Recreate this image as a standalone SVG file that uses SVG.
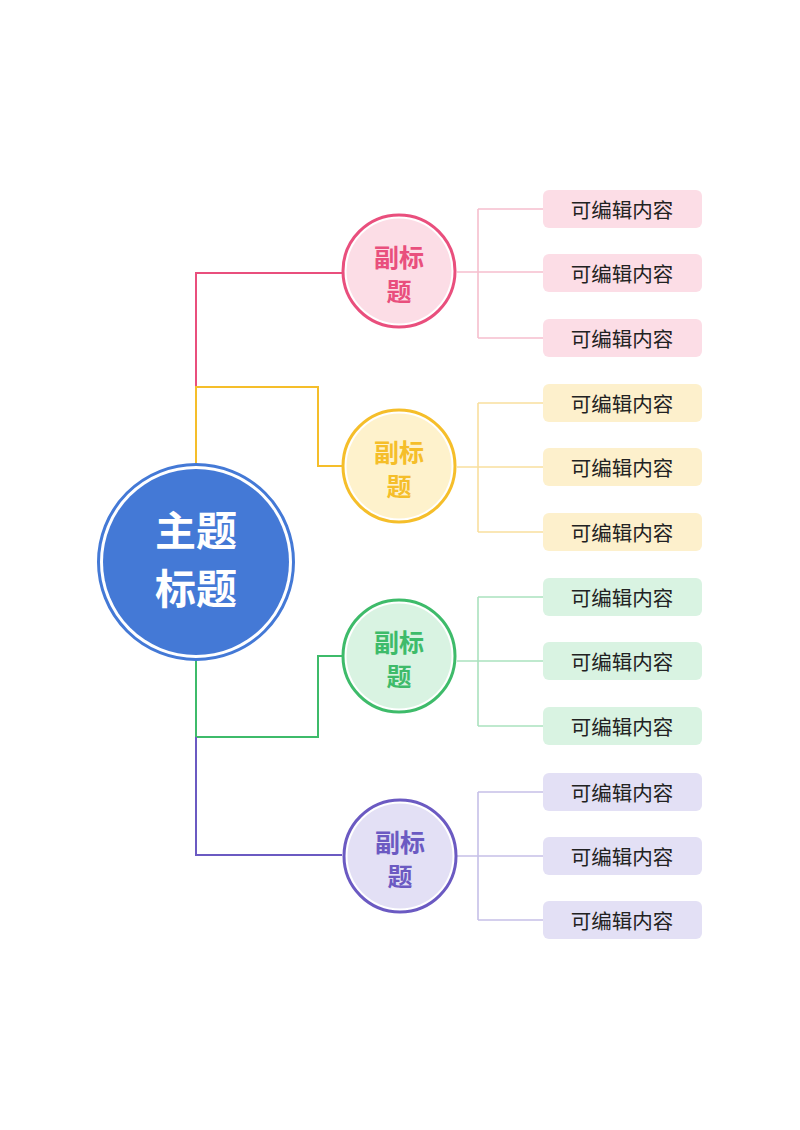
<svg xmlns="http://www.w3.org/2000/svg" width="800" height="1130" viewBox="0 0 800 1130">
<style>
.lk{fill:none;stroke-width:2}
.sl{fill:none;stroke-width:1.6}
.bt{font-family:"Noto Sans CJK SC","Noto Sans",sans-serif;font-size:20.5px;fill:#222;text-anchor:middle;dominant-baseline:central}
.st{font-family:"Noto Sans CJK SC","Noto Sans",sans-serif;font-size:25px;font-weight:bold;text-anchor:middle;dominant-baseline:central}
.mt{font-family:"Noto Sans CJK SC","Noto Sans",sans-serif;font-size:41px;font-weight:bold;fill:#fff;text-anchor:middle;dominant-baseline:central}
</style>
<rect width="800" height="1130" fill="#fff"/>
<g id="connectors">
<path class="lk" stroke="#E94F7D" d="M196 387 V273 H342"/>
<path class="lk" stroke="#F5BE2A" d="M196 463 V387 H318 V466 H342"/>
<path class="lk" stroke="#3EBB6A" d="M196 661 V737 H318 V656 H342"/>
<path class="lk" stroke="#6B5AC2" d="M196 737 V855 H342"/>
<path class="sl" stroke="#F6BFCE" d="M457 272 H543 M478 209 V338 M478 209 H543 M478 338 H543"/>
<path class="sl" stroke="#F9DF9E" d="M457 467 H543 M478 403 V532 M478 403 H543 M478 532 H543"/>
<path class="sl" stroke="#ABE2BE" d="M457 661 H543 M478 597 V726 M478 597 H543 M478 726 H543"/>
<path class="sl" stroke="#C6C0E8" d="M457 856 H543 M478 792 V920 M478 792 H543 M478 920 H543"/>
</g>
<g id="main">
<circle cx="196" cy="562" r="97.5" fill="#fff" stroke="#4479D6" stroke-width="3"/>
<circle cx="196" cy="562" r="93" fill="#4479D6"/>
<text class="mt" x="196" y="528">主题</text>
<text class="mt" x="196" y="586">标题</text>
</g>
<g id="sub1">
<circle cx="399" cy="271" r="56" fill="#fff" stroke="#E94F7D" stroke-width="3"/>
<circle cx="399" cy="271" r="52.5" fill="#FCDDE6"/>
<text class="st" fill="#E94F7D" x="399" y="256">副标</text>
<text class="st" fill="#E94F7D" x="399" y="290">题</text>
</g>
<g id="sub2">
<circle cx="399" cy="466" r="56" fill="#fff" stroke="#F5BE2A" stroke-width="3"/>
<circle cx="399" cy="466" r="52.5" fill="#FEF2CC"/>
<text class="st" fill="#F5BE2A" x="399" y="451">副标</text>
<text class="st" fill="#F5BE2A" x="399" y="485">题</text>
</g>
<g id="sub3">
<circle cx="399" cy="656" r="56" fill="#fff" stroke="#3EBB6A" stroke-width="3"/>
<circle cx="399" cy="656" r="52.5" fill="#D9F3E2"/>
<text class="st" fill="#3EBB6A" x="399" y="641">副标</text>
<text class="st" fill="#3EBB6A" x="399" y="675">题</text>
</g>
<g id="sub4">
<circle cx="400" cy="856" r="56" fill="#fff" stroke="#6B5AC2" stroke-width="3"/>
<circle cx="400" cy="856" r="52.5" fill="#E3E0F5"/>
<text class="st" fill="#6B5AC2" x="400" y="841">副标</text>
<text class="st" fill="#6B5AC2" x="400" y="875">题</text>
</g>
<g id="leaves1">
<rect x="543" y="190" width="159" height="38" rx="6" fill="#FCDDE6"/><text class="bt" x="622" y="209">可编辑内容</text>
<rect x="543" y="254" width="159" height="38" rx="6" fill="#FCDDE6"/><text class="bt" x="622" y="273">可编辑内容</text>
<rect x="543" y="319" width="159" height="38" rx="6" fill="#FCDDE6"/><text class="bt" x="622" y="338">可编辑内容</text>
</g>
<g id="leaves2">
<rect x="543" y="384" width="159" height="38" rx="6" fill="#FDF0CC"/><text class="bt" x="622" y="403">可编辑内容</text>
<rect x="543" y="448" width="159" height="38" rx="6" fill="#FDF0CC"/><text class="bt" x="622" y="467">可编辑内容</text>
<rect x="543" y="513" width="159" height="38" rx="6" fill="#FDF0CC"/><text class="bt" x="622" y="532">可编辑内容</text>
</g>
<g id="leaves3">
<rect x="543" y="578" width="159" height="38" rx="6" fill="#D9F3E2"/><text class="bt" x="622" y="597">可编辑内容</text>
<rect x="543" y="642" width="159" height="38" rx="6" fill="#D9F3E2"/><text class="bt" x="622" y="661">可编辑内容</text>
<rect x="543" y="707" width="159" height="38" rx="6" fill="#D9F3E2"/><text class="bt" x="622" y="726">可编辑内容</text>
</g>
<g id="leaves4">
<rect x="543" y="773" width="159" height="38" rx="6" fill="#E3E0F5"/><text class="bt" x="622" y="792">可编辑内容</text>
<rect x="543" y="837" width="159" height="38" rx="6" fill="#E3E0F5"/><text class="bt" x="622" y="856">可编辑内容</text>
<rect x="543" y="901" width="159" height="38" rx="6" fill="#E3E0F5"/><text class="bt" x="622" y="920">可编辑内容</text>
</g>
</svg>
